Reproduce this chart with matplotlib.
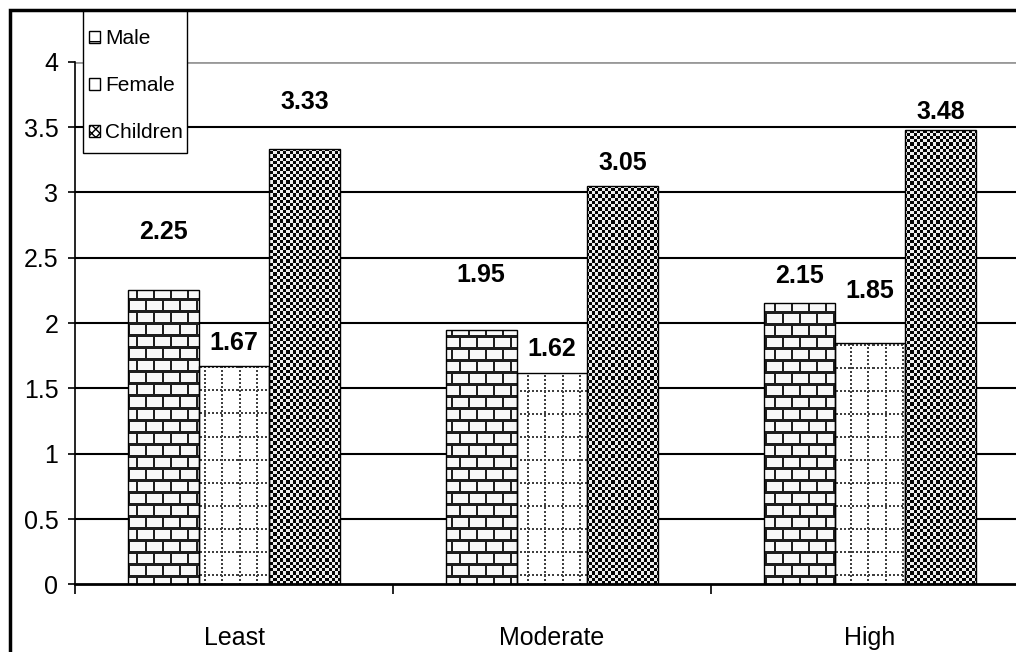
import numpy as np
import matplotlib
matplotlib.use("Agg")
import matplotlib.pyplot as plt
from matplotlib.patches import Rectangle, Patch

# values
categories = ["Least", "Moderate", "High"]
series = ["Male", "Female", "Children"]
male = [2.25, 1.95, 2.15]
female = [1.67, 1.62, 1.85]
children = [3.33, 3.05, 3.48]
y_ticks = [0, 0.5, 1, 1.5, 2, 2.5, 3, 3.5, 4]

# labels in the original were dragged by hand, so each sits at its own
# height above the bar top (pixels)
label_lift = [[58, 55, 27], [23, 24, 52], [47, 23, 18]]

plt.rcParams["font.family"] = ["Liberation Sans Narrow", "Liberation Sans", "DejaVu Sans"]

W_PX, H_PX, DPI = 1016, 652, 100


# --- fill textures (Excel style patterns), in figure pixel coords ------------
def brick(xx, yy):
    row = yy // 12
    h = (yy % 12) < 3
    v = ((xx + (row % 2) * 8) % 17) < 2
    return np.where(h | v, 0.12, 0.97)


def dotted_grid(xx, yy):
    v = (xx % 17 < 2) & (yy % 4 < 2)
    h = (yy % 23 < 2) & (xx % 4 < 2)
    return np.where(v | h, 0.25, 1.0)


def checker(xx, yy):
    c = (np.floor(xx / 3.25) + np.floor(yy / 3.25)) % 2
    return np.where(c == 0, 0.02, 0.93)


textures = [brick, dotted_grid, checker]

fig = plt.figure(figsize=(W_PX / DPI, H_PX / DPI), dpi=DPI)
ax = fig.add_axes([75 / W_PX, 67.6 / H_PX, 954 / W_PX, 522.7 / H_PX])

x = np.arange(len(categories))
width = 0.223
values = [male, female, children]
offsets = [-width, 0, width]

# pixel grid over the axes for the textures
bb = ax.get_window_extent()
W, H = int(round(bb.width)), int(round(bb.height))
xx, yy = np.meshgrid(np.arange(W) + int(round(bb.x0)),
                     np.arange(H) + int(round(H_PX - bb.y1)))

for i, name in enumerate(series):
    bars = ax.bar(x + offsets[i], values[i], width, facecolor="none",
                  edgecolor="black", linewidth=1.0, zorder=3)
    tex = textures[i](xx, yy)
    for j, b in enumerate(bars):
        im = ax.imshow(tex, extent=(-0.5, 2.5, 0, 4), origin="upper",
                       aspect="auto", interpolation="nearest", cmap="gray",
                       vmin=0, vmax=1, zorder=2)
        im.set_clip_path(b)
        ax.annotate(f"{values[i][j]:.2f}", xy=(b.get_x() + b.get_width() / 2, values[i][j]),
                    xytext=(0, label_lift[i][j] * 72 / DPI), textcoords="offset points",
                    ha="center", va="center", fontsize=18, fontweight="bold", zorder=4)

ax.set_xlim(-0.5, 2.5)
ax.set_ylim(0, 4)

# grid: black lines, top one grey
for t in y_ticks[1:-1]:
    ax.axhline(t, color="black", linewidth=1.5, zorder=1)
ax.axhline(4, color="#999999", linewidth=2, zorder=1)

ax.set_yticks(y_ticks)
ax.set_yticklabels([f"{t:g}" for t in y_ticks], fontsize=18)
ax.tick_params(axis="y", direction="out", length=5, width=1.2, pad=7)

ax.set_xticks([-0.5, 0.5, 1.5, 2.5])
ax.set_xticklabels([])
ax.set_xticks(x, minor=True)
ax.set_xticklabels(categories, minor=True, fontsize=18)
ax.tick_params(axis="x", which="major", direction="out", length=7, width=1.2)
ax.tick_params(axis="x", which="minor", length=0, pad=30)

for s in ["top", "right"]:
    ax.spines[s].set_visible(False)
ax.spines["left"].set_linewidth(1.2)
ax.spines["bottom"].set_linewidth(2)
ax.spines["bottom"].set_zorder(5)

# legend box is drawn separately so it can be tall and narrow like the original
ax.add_patch(Rectangle((83 / W_PX, 1 - 153 / H_PX), 104 / W_PX, 143 / H_PX,
                       transform=fig.transFigure, facecolor="white",
                       edgecolor="black", linewidth=1.0, zorder=9, clip_on=False))
handles = [Patch(facecolor="white", edgecolor="black", hatch="-", label="Male"),
           Patch(facecolor="white", edgecolor="black", label="Female"),
           Patch(facecolor="white", edgecolor="black", hatch="xxxx", label="Children")]
leg = ax.legend(handles=handles, loc="upper left",
                bbox_to_anchor=(85 / W_PX, 1 - 25 / H_PX), bbox_transform=fig.transFigure,
                borderaxespad=0, fontsize=15, frameon=False,
                handlelength=0.5, handleheight=0.5,
                handletextpad=0.25, labelspacing=1.35, borderpad=0.2)
leg.set_zorder(10)

# outer chart-area border (right and bottom edges fall outside the image)
fig.add_artist(Rectangle((9.5 / W_PX, -0.1), 1.2, 1.1 - 9.5 / H_PX,
                         transform=fig.transFigure, fill=False,
                         edgecolor="black", linewidth=2.5))

fig.savefig("out.png", dpi=DPI)
